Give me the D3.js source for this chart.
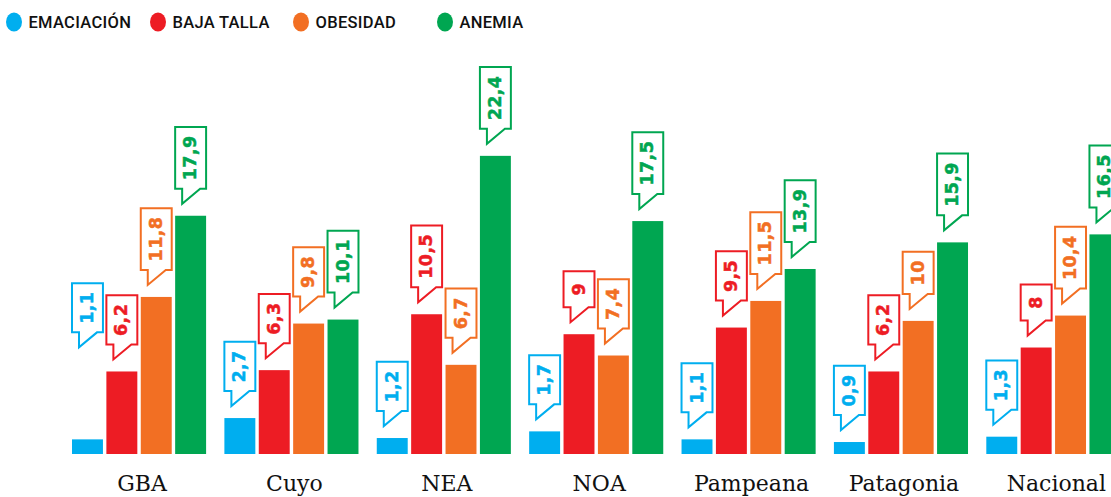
<!DOCTYPE html>
<html>
<head>
<meta charset="utf-8">
<script src="https://cdn.jsdelivr.net/npm/d3@7"></script>
<style>
  html, body { margin: 0; padding: 0; background: #ffffff; }
  svg { display: block; }
</style>
</head>
<body>
<svg id="chart" width="1111" height="497"></svg>
<script>
// ---- data ----
const categories = ["GBA", "Cuyo", "NEA", "NOA", "Pampeana", "Patagonia", "Nacional"];
const seriesNames = ["EMACIACIÓN", "BAJA TALLA", "OBESIDAD", "ANEMIA"];
const emaciacion = [1.1, 2.7, 1.2, 1.7, 1.1, 0.9, 1.3];
const bajaTalla  = [6.2, 6.3, 10.5, 9.0, 9.5, 6.2, 8.0];
const obesidad   = [11.8, 9.8, 6.7, 7.4, 11.5, 10.0, 10.4];
const anemia     = [17.9, 10.1, 22.4, 17.5, 13.9, 15.9, 16.5];
const seriesColors = ["#00aeef", "#ed1c24", "#f26f23", "#00a651"];

// ---- layout ----
const W = 1111, H = 497;
const baseY = 454;
const svg = d3.select("#chart");

const seriesValues = [emaciacion, bajaTalla, obesidad, anemia];
const rows = categories.map((c, i) => ({
  cat: c,
  vals: seriesNames.map((s, k) => ({ key: s, k, cat: c, i, v: seriesValues[k][i] }))
}));

const x0 = d3.scaleBand().domain(categories).range([72, 1120.4]).paddingInner(0.12).paddingOuter(0);
const x1 = d3.scaleBand().domain(seriesNames).range([0, x0.bandwidth()]).paddingInner(0.1).paddingOuter(0);
const y = d3.scaleLinear().domain([0, 25]).range([baseY, baseY - 25 * 13.31]);
const color = d3.scaleOrdinal().domain(seriesNames).range(seriesColors);

const fmt = v => (Number.isInteger(v) ? String(v) : v.toFixed(1).replace(".", ","));

// ---- legend ----
const legendX = [14, 158, 301, 445];
const legend = svg.append("g");
seriesNames.forEach((s, k) => {
  const g = legend.append("g").attr("transform", `translate(${legendX[k]},22)`);
  g.append("ellipse").attr("rx", 8).attr("ry", 9.5).attr("fill", color(s));
  g.append("text").attr("x", 14.5).attr("y", 6.2)
    .attr("font-family", "Roboto, sans-serif").attr("font-weight", 500)
    .attr("font-size", 16.5).attr("letter-spacing", 0.3).attr("fill", "#111").text(s);
});

// ---- bars ----
const groups = svg.append("g").selectAll("g").data(rows).join("g")
  .attr("transform", d => `translate(${x0(d.cat)},0)`);

groups.selectAll("rect").data(d => d.vals).join("rect")
  .attr("x", d => x1(d.key))
  .attr("y", d => y(d.v))
  .attr("width", x1.bandwidth())
  .attr("height", d => baseY - y(d.v))
  .attr("fill", d => color(d.key));

// ---- callouts ----
const gbaEmaciacionLift = 80;
const tipGap = 12, tailH = 15;
const labels = groups.selectAll("g.callout").data(d => d.vals).join("g").attr("class", "callout");
labels.each(function (d) {
  const g = d3.select(this);
  const w = x1.bandwidth();
  const bx = x1(d.key);
  const path = g.append("path");
  const t = g.append("text")
    .attr("font-family", "'DejaVu Sans', sans-serif").attr("font-weight", 700)
    .attr("font-size", 17.5).attr("letter-spacing", 0.4)
    .attr("stroke", color(d.key)).attr("stroke-width", 0.5)
    .attr("fill", color(d.key)).attr("text-anchor", "middle")
    .text(fmt(d.v));
  const len = t.node().getComputedTextLength();
  const h = Math.max(36, len + 17);
  let tip = y(d.v) - tipGap;
  if (d.i === 0 && d.k === 0) tip -= gbaEmaciacionLift;
  const yb = tip - tailH;
  const yt = yb - h;
  path.attr("d", `M${bx},${yt}H${bx + w}V${yb}H${bx + 25}L${bx + 7},${tip}V${yb}H${bx}Z`)
    .attr("fill", "#fff").attr("stroke", color(d.key)).attr("stroke-width", 2)
    .attr("stroke-linejoin", "miter");
  const cx = bx + w / 2 + 5.5, cy = (yt + yb) / 2;
  t.attr("transform", `translate(${cx},${cy}) rotate(-90)`).attr("x", 0).attr("y", 0);
});

// ---- category axis labels ----
svg.append("g").selectAll("text").data(categories).join("text")
  .attr("x", d => x0(d) + x0.bandwidth() / 2 + 3)
  .attr("y", 491)
  .attr("text-anchor", "middle")
  .attr("font-family", "'DejaVu Serif', serif").attr("font-size", 22)
  .attr("fill", "#111").text(d => d);
</script>
</body>
</html>
